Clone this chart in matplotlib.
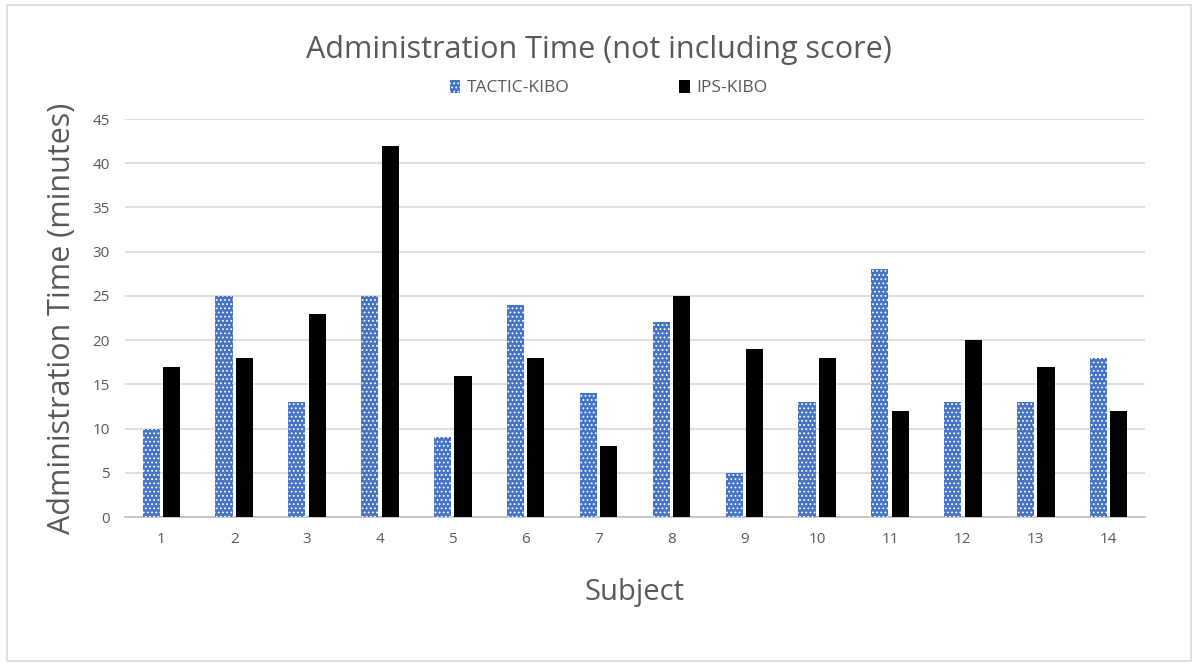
import numpy as np
import matplotlib.pyplot as plt
from matplotlib.patches import Rectangle

subjects = [str(i) for i in range(1, 15)]
tactic_kibo = [10, 25, 13, 25, 9, 24, 14, 22, 5, 13, 28, 13, 13, 18]
ips_kibo = [17, 18, 23, 42, 16, 18, 8, 25, 19, 18, 12, 20, 17, 12]

plt.rcParams["font.family"] = ["Open Sans", "DejaVu Sans"]
plt.rcParams["hatch.linewidth"] = 0.8

TEXT = "#595959"
BLUE = "#4472C4"

fig = plt.figure(figsize=(11.98, 6.66), dpi=100)
ax = fig.add_axes([0.1043, 0.2237, 0.8515, 0.5976])

# thin grey frame around the whole chart
fig.patches.append(Rectangle((0.006, 0.008), 0.988, 0.984, transform=fig.transFigure,
                             fill=False, edgecolor="#d9d9d9", linewidth=1.2))

x = np.arange(len(subjects))
w = 0.235
ax.bar(x - 0.14, tactic_kibo, width=w, color=BLUE, edgecolor="white",
       linewidth=0, hatch="....", label="TACTIC-KIBO", zorder=3)
ax.bar(x + 0.14, ips_kibo, width=w, color="black", linewidth=0,
       label="IPS-KIBO", zorder=3)

ax.set_xlim(-0.5, len(subjects) - 0.5)
ax.set_ylim(0, 45)
ax.set_yticks(range(0, 46, 5))
ax.set_xticks(x)
ax.set_xticklabels(subjects)
ax.grid(axis="y", color="#d9d9d9", linewidth=1.2, zorder=0)
for s in ["top", "right", "left"]:
    ax.spines[s].set_visible(False)
ax.spines["bottom"].set_color("#bfbfbf")
ax.spines["bottom"].set_linewidth(1.2)
ax.tick_params(length=0, labelsize=11, colors=TEXT, pad=11)

ax.set_xlabel("Subject", fontsize=21, color=TEXT, labelpad=22)
ax.set_ylabel("Administration Time (minutes)", fontsize=22, color=TEXT, labelpad=11)
fig.text(0.5, 0.925, "Administration Time (not including score)", ha="center",
         va="center", fontsize=22, color=TEXT)

fig.legend(loc="center", bbox_to_anchor=(0.508, 0.868), ncol=2, frameon=False,
           fontsize=12.5, labelcolor=TEXT, columnspacing=6.3, handlelength=0.6,
           handleheight=0.8, handletextpad=0.4)

fig.savefig("out.png", dpi=100)
